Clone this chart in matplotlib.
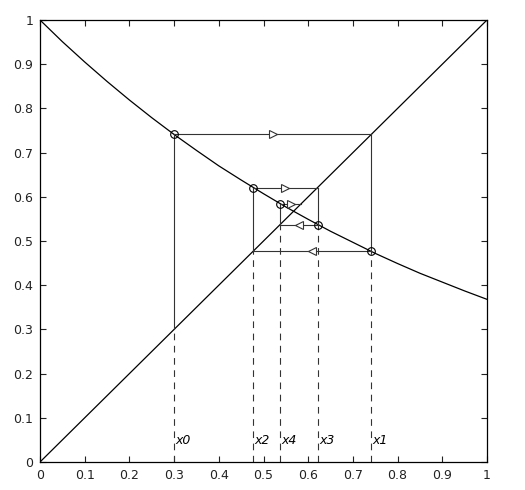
import numpy as np
import matplotlib
matplotlib.use("Agg")
import matplotlib.pyplot as plt

# curve y = exp(-x), values read at x = 0, 0.05, ..., 1
curve_x = [0.00, 0.05, 0.10, 0.15, 0.20, 0.25, 0.30, 0.35, 0.40, 0.45, 0.50,
           0.55, 0.60, 0.65, 0.70, 0.75, 0.80, 0.85, 0.90, 0.95, 1.00]
curve_y = [1.000, 0.951, 0.905, 0.861, 0.819, 0.779, 0.741, 0.705, 0.670, 0.638, 0.607,
           0.577, 0.549, 0.522, 0.497, 0.472, 0.449, 0.427, 0.407, 0.387, 0.368]

# iterates x0..x5
iterates = [0.300, 0.741, 0.477, 0.621, 0.537, 0.584]
labels = ["x0", "x1", "x2", "x3", "x4"]

fig = plt.figure(figsize=(5.25, 4.9), dpi=100)
ax = fig.add_axes([40/525, 28/490, 447/525, 442/490])

ax.plot(curve_x, curve_y, color="black", lw=0.9)
ax.plot([0, 1], [0, 1], color="black", lw=0.9)

lc = "#333333"
for n in range(5):
    xn = iterates[n]
    yn = iterates[n + 1]
    # vertical: diagonal to curve
    ax.plot([xn, xn], [xn, yn], color=lc, lw=0.8)
    # dashed drop to the axis
    ax.plot([xn, xn], [0, min(xn, yn)], color=lc, lw=0.8, ls=(0, (6, 5)))
    # horizontal: curve to diagonal
    ax.plot([xn, yn], [yn, yn], color=lc, lw=0.8)
    # arrow marker at midpoint
    mk = ">" if yn > xn else "<"
    ax.plot([(xn + yn) / 2], [yn], marker=mk, ms=6, mfc="white", mec=lc, mew=0.8)
    # circle at curve point
    ax.plot([xn], [yn], marker="o", ms=5.5, mfc="none", mec="black", mew=0.8)
    ax.text(xn + 0.003, 0.033, labels[n], fontstyle="italic", fontsize=9,
            ha="left", va="bottom", color="black")

ax.set_xlim(0, 1)
ax.set_ylim(0, 1)
ticks = [0, 0.1, 0.2, 0.3, 0.4, 0.5, 0.6, 0.7, 0.8, 0.9, 1]
ticklabels = ["0", "0.1", "0.2", "0.3", "0.4", "0.5", "0.6", "0.7", "0.8", "0.9", "1"]
ax.set_xticks(ticks)
ax.set_xticklabels(ticklabels)
ax.set_yticks(ticks)
ax.set_yticklabels(ticklabels)
ax.tick_params(direction="in", length=4, labelsize=9, colors="#222222",
               top=True, right=True, pad=5)
for s in ax.spines.values():
    s.set_linewidth(0.9)

fig.savefig("out.png", dpi=100)
